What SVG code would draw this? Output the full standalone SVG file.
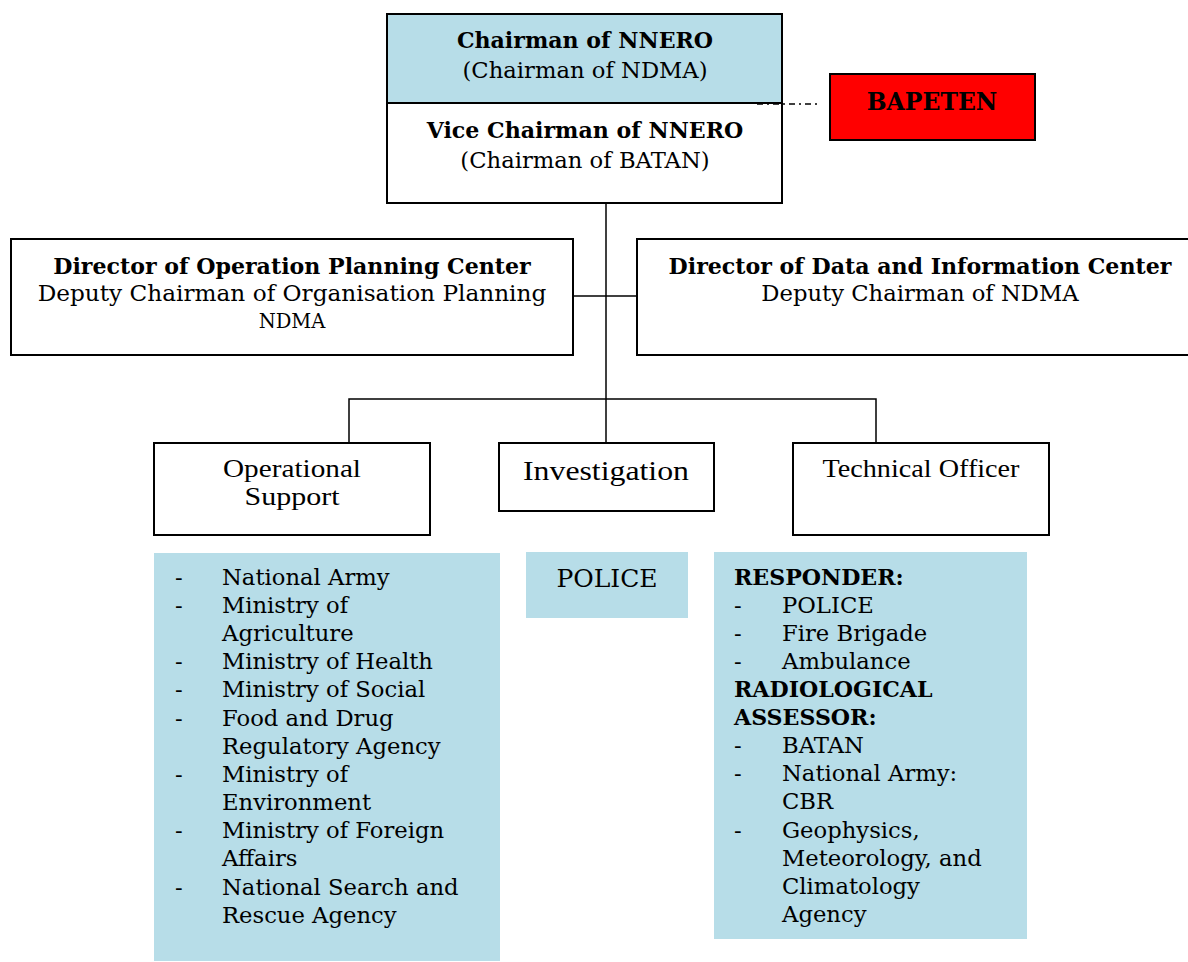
<svg xmlns="http://www.w3.org/2000/svg" width="1188" height="962" viewBox="0 0 1188 962">
<style>
.b{fill:none;stroke:#000;stroke-width:2}
.t{font-family:"DejaVu Serif",serif;font-size:22.7px;fill:#000}
.bd{font-weight:bold;font-size:22.1px}
.m{text-anchor:middle}
.n{font-family:"Liberation Serif",serif;fill:#000;text-anchor:middle;font-size:26px}
.ln{fill:none;stroke:#000;stroke-width:1.5}
</style>
<rect width="1188" height="962" fill="#fff"/>
<g id="connectors">
<line class="ln" x1="606" y1="203" x2="606" y2="443"/>
<line class="ln" x1="573" y1="296" x2="637" y2="296"/>
<polyline class="ln" points="349,443 349,399 876,399 876,443"/>
<line class="ln" x1="757" y1="104" x2="820" y2="104" stroke-dasharray="6,4,2,4"/>
</g>
<g id="chairman">
<rect x="387" y="14" width="395" height="89" fill="#b7dde8"/>
<rect class="b" x="387" y="14" width="395" height="189"/>
<line class="b" x1="387" y1="103" x2="782" y2="103"/>
<text class="t bd m" x="585" y="48">Chairman of NNERO</text>
<text class="t m" x="585" y="78">(Chairman of NDMA)</text>
<text class="t bd m" x="585" y="138">Vice Chairman of NNERO</text>
<text class="t m" x="585" y="168">(Chairman of BATAN)</text>
</g>
<g id="bapeten">
<rect x="830" y="74" width="205" height="66" fill="#ff0000" stroke="#000" stroke-width="2"/>
<text class="t bd m" x="932" y="110" style="font-size:23.5px">BAPETEN</text>
</g>
<g id="director-operation">
<rect class="b" x="11" y="239" width="562" height="116" fill="#fff"/>
<text class="t bd m" x="292" y="274">Director of Operation Planning Center</text>
<text class="t m" x="292" y="301" style="font-size:23.2px">Deputy Chairman of Organisation Planning</text>
<text class="t m" x="292" y="328" style="font-size:19.5px">NDMA</text>
</g>
<g id="director-data">
<rect class="b" x="637" y="239" width="560" height="116" fill="#fff"/>
<text class="t bd m" x="920" y="274">Director of Data and Information Center</text>
<text class="t m" x="920" y="301">Deputy Chairman of NDMA</text>
</g>
<g id="operational-support">
<rect class="b" x="154" y="443" width="276" height="92" fill="#fff"/>
<text class="n" x="292" y="477" textLength="138" lengthAdjust="spacingAndGlyphs">Operational</text>
<text class="n" x="292" y="505" textLength="95" lengthAdjust="spacingAndGlyphs">Support</text>
</g>
<g id="investigation">
<rect class="b" x="499" y="443" width="215" height="68" fill="#fff"/>
<text class="n" x="606" y="480" style="font-size:28px" textLength="166" lengthAdjust="spacingAndGlyphs">Investigation</text>
</g>
<g id="technical-officer">
<rect class="b" x="793" y="443" width="256" height="92" fill="#fff"/>
<text class="n" x="921" y="477" textLength="197" lengthAdjust="spacingAndGlyphs">Technical Officer</text>
</g>
<g id="operational-list">
<rect x="154" y="553" width="346" height="408" fill="#b7dde8"/>
<g class="t">
<text x="175" y="585">-</text><text x="222" y="585">National Army</text>
<text x="175" y="613">-</text><text x="222" y="613">Ministry of</text>
<text x="222" y="641">Agriculture</text>
<text x="175" y="669">-</text><text x="222" y="669">Ministry of Health</text>
<text x="175" y="697">-</text><text x="222" y="697">Ministry of Social</text>
<text x="175" y="726">-</text><text x="222" y="726">Food and Drug</text>
<text x="222" y="754">Regulatory Agency</text>
<text x="175" y="782">-</text><text x="222" y="782">Ministry of</text>
<text x="222" y="810">Environment</text>
<text x="175" y="838">-</text><text x="222" y="838">Ministry of Foreign</text>
<text x="222" y="866">Affairs</text>
<text x="175" y="895">-</text><text x="222" y="895">National Search and</text>
<text x="222" y="923">Rescue Agency</text>
</g>
</g>
<g id="investigation-list">
<rect x="526" y="552" width="162" height="66" fill="#b7dde8"/>
<text class="t m" x="607" y="587" style="font-size:25px">POLICE</text>
</g>
<g id="technical-list">
<rect x="714" y="552" width="313" height="387" fill="#b7dde8"/>
<g class="t">
<text class="bd" x="734" y="585">RESPONDER:</text>
<text x="734" y="613">-</text><text x="782" y="613">POLICE</text>
<text x="734" y="641">-</text><text x="782" y="641">Fire Brigade</text>
<text x="734" y="669">-</text><text x="782" y="669">Ambulance</text>
<text class="bd" x="734" y="697">RADIOLOGICAL</text>
<text class="bd" x="734" y="725">ASSESSOR:</text>
<text x="734" y="753">-</text><text x="782" y="753">BATAN</text>
<text x="734" y="781">-</text><text x="782" y="781">National Army:</text>
<text x="782" y="809">CBR</text>
<text x="734" y="838">-</text><text x="782" y="838">Geophysics,</text>
<text x="782" y="866">Meteorology, and</text>
<text x="782" y="894">Climatology</text>
<text x="782" y="922">Agency</text>
</g>
</g>
</svg>
